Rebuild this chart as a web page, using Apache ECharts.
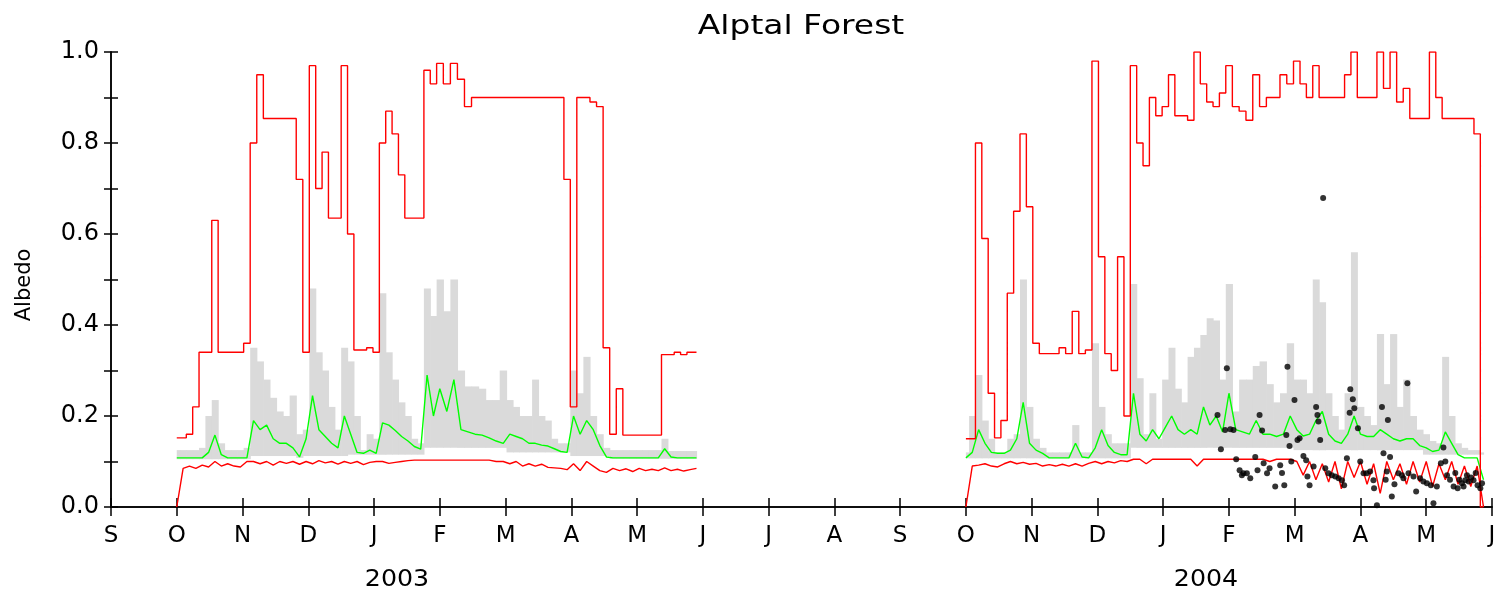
<!DOCTYPE html>
<html>
<head>
<meta charset="utf-8">
<script src="https://cdn.jsdelivr.net/npm/echarts@6/dist/echarts.min.js"></script>
<style>
  html, body { margin: 0; padding: 0; background: #fff; }
  #chart { width: 1503px; height: 595px; }
</style>
</head>
<body>
<div id="chart"></div>
<script>
// Month initials along the time axis, one per month from Sep 2002 to Jun 2004
const monthLabels = ['S','O','N','D','J','F','M','A','M','J','J','A','S','O','N','D','J','F','M','A','M','J'];
const yearLabels = ['2003', '2004'];

// Every series below holds one value every STEP_DAYS days, starting 1 October
const STEP_DAYS = 3;

// ---- Winter 2002/03 (from 1 Oct 2002) ----
const s1Upper = [
  0.152, 0.152, 0.16, 0.22, 0.34, 0.34, 0.63, 0.34, 0.34, 0.34, 0.34, 0.36,
  0.8, 0.95, 0.854, 0.854, 0.854, 0.854, 0.854, 0.72, 0.34, 0.97, 0.7, 0.78, 0.635, 0.635, 0.97,
  0.6, 0.345, 0.345, 0.35, 0.34, 0.8, 0.87, 0.82, 0.73, 0.635, 0.635, 0.635, 0.96, 0.93, 0.975, 0.93, 0.975,
  0.94, 0.88, 0.9, 0.9, 0.9, 0.9, 0.9, 0.9, 0.9, 0.9, 0.9, 0.9, 0.9, 0.9, 0.9, 0.9, 0.72,
  0.22, 0.9, 0.9, 0.89, 0.88, 0.35, 0.16, 0.26, 0.158, 0.158, 0.158, 0.158, 0.158, 0.158, 0.335, 0.335, 0.34, 0.335, 0.34, 0.34
];
const s1Green = [
  0.108, 0.108, 0.108, 0.108, 0.108, 0.12, 0.158, 0.115, 0.108, 0.108, 0.108, 0.108,
  0.19, 0.17, 0.18, 0.15, 0.14, 0.14, 0.13, 0.11, 0.15, 0.245, 0.17, 0.155, 0.14, 0.13, 0.2,
  0.16, 0.12, 0.118, 0.125, 0.118, 0.185, 0.18, 0.168, 0.155, 0.145, 0.133, 0.127, 0.29, 0.2, 0.26, 0.21, 0.28,
  0.17, 0.165, 0.16, 0.158, 0.152, 0.145, 0.14, 0.16, 0.155, 0.15, 0.14, 0.14, 0.136, 0.134, 0.128, 0.122, 0.12,
  0.2, 0.16, 0.19, 0.17, 0.135, 0.11, 0.108, 0.108, 0.108, 0.108, 0.108, 0.108, 0.108, 0.108, 0.128, 0.11, 0.108, 0.108, 0.108, 0.108
];
const s1Lower = [
  0.0, 0.085, 0.09, 0.085, 0.092, 0.088, 0.1, 0.09, 0.095, 0.09, 0.088, 0.1,
  0.1, 0.095, 0.1, 0.092, 0.1, 0.096, 0.1, 0.094, 0.1, 0.095, 0.102, 0.097, 0.1, 0.094, 0.1,
  0.096, 0.1, 0.093, 0.098, 0.1, 0.1, 0.096, 0.098, 0.1, 0.102, 0.103, 0.103, 0.103, 0.103, 0.103, 0.103, 0.103,
  0.103, 0.103, 0.103, 0.103, 0.103, 0.1, 0.1, 0.095, 0.1, 0.09, 0.095, 0.09, 0.094, 0.087, 0.086, 0.085, 0.082,
  0.095, 0.08, 0.1, 0.09, 0.08, 0.076, 0.085, 0.08, 0.084, 0.078, 0.085, 0.08, 0.083, 0.08, 0.086, 0.08, 0.083, 0.079, 0.082, 0.085
];
const s1GrayLow = [
  0.105, 0.105, 0.105, 0.105, 0.105, 0.105, 0.105, 0.105, 0.105, 0.105, 0.105, 0.105,
  0.112, 0.112, 0.112, 0.112, 0.112, 0.112, 0.112, 0.108, 0.112, 0.112, 0.112, 0.112, 0.112, 0.112, 0.112,
  0.115, 0.115, 0.115, 0.115, 0.115, 0.115, 0.115, 0.115, 0.115, 0.115, 0.115, 0.115, 0.13, 0.13, 0.13, 0.13, 0.13,
  0.13, 0.13, 0.13, 0.13, 0.13, 0.13, 0.13, 0.12, 0.12, 0.12, 0.12, 0.12, 0.12, 0.12, 0.12, 0.12, 0.12,
  0.112, 0.112, 0.112, 0.112, 0.112, 0.112, 0.106, 0.106, 0.106, 0.106, 0.106, 0.106, 0.106, 0.106, 0.106, 0.106, 0.106, 0.106, 0.106, 0.106
];
const s1GrayHigh = [
  0.125, 0.125, 0.125, 0.125, 0.13, 0.2, 0.235, 0.14, 0.125, 0.125, 0.125, 0.13,
  0.35, 0.32, 0.28, 0.24, 0.21, 0.2, 0.245, 0.16, 0.17, 0.48, 0.34, 0.3, 0.22, 0.17, 0.35,
  0.32, 0.2, 0.125, 0.16, 0.15, 0.47, 0.34, 0.28, 0.23, 0.2, 0.15, 0.14, 0.48, 0.42, 0.5, 0.43, 0.5,
  0.3, 0.265, 0.265, 0.26, 0.235, 0.235, 0.3, 0.235, 0.22, 0.2, 0.2, 0.28, 0.2, 0.19, 0.15, 0.14, 0.14,
  0.3, 0.25, 0.33, 0.2, 0.16, 0.13, 0.125, 0.125, 0.125, 0.125, 0.125, 0.125, 0.125, 0.125, 0.15, 0.123, 0.123, 0.123, 0.123, 0.123
];

// ---- Winter 2003/04 (from 1 Oct 2003) ----
const s2Upper = [
  0.15, 0.15, 0.8, 0.59, 0.25, 0.152, 0.19, 0.47, 0.65, 0.82, 0.66, 0.36,
  0.337, 0.337, 0.337, 0.35, 0.337, 0.43, 0.337, 0.345, 0.98, 0.55, 0.337, 0.3, 0.55, 0.2, 0.97,
  0.8, 0.75, 0.9, 0.86, 0.88, 0.95, 0.86, 0.86, 0.85, 1.0, 0.93, 0.89, 0.88, 0.91, 0.97, 0.88, 0.87,
  0.85, 0.95, 0.88, 0.9, 0.9, 0.95, 0.93, 0.98, 0.93, 0.9, 0.97, 0.9, 0.9, 0.9, 0.9, 0.95, 1.0,
  0.9, 0.9, 0.9, 1.0, 0.92, 1.0, 0.89, 0.92, 0.854, 0.854, 0.854, 1.0, 0.9, 0.854, 0.854, 0.854, 0.854, 0.854, 0.82, 0.0
];
const s2Green = [
  0.108, 0.12, 0.17, 0.14, 0.12, 0.118, 0.118, 0.125, 0.15, 0.23, 0.14, 0.125,
  0.118, 0.108, 0.108, 0.108, 0.108, 0.14, 0.11, 0.108, 0.13, 0.17, 0.135, 0.12, 0.115, 0.115, 0.25,
  0.16, 0.145, 0.17, 0.15, 0.175, 0.2, 0.17, 0.16, 0.17, 0.16, 0.22, 0.18, 0.2, 0.165, 0.25, 0.17, 0.165,
  0.16, 0.19, 0.16, 0.16, 0.155, 0.16, 0.2, 0.17, 0.156, 0.16, 0.19, 0.21, 0.16, 0.145, 0.14, 0.16, 0.2,
  0.16, 0.155, 0.155, 0.17, 0.16, 0.15, 0.145, 0.15, 0.15, 0.135, 0.13, 0.122, 0.125, 0.165, 0.14, 0.115, 0.108, 0.108, 0.108, 0.06
];
const s2Lower = [
  0.0, 0.09, 0.092, 0.095, 0.09, 0.088, 0.095, 0.1, 0.095, 0.098, 0.094, 0.096,
  0.09, 0.093, 0.09, 0.094, 0.09, 0.095, 0.09, 0.096, 0.1, 0.095, 0.1, 0.097, 0.102, 0.1, 0.105,
  0.105, 0.095, 0.105, 0.105, 0.105, 0.105, 0.105, 0.105, 0.105, 0.09, 0.105, 0.105, 0.105, 0.105, 0.105, 0.105, 0.105,
  0.105, 0.105, 0.105, 0.1, 0.105, 0.105, 0.105, 0.1, 0.07, 0.1, 0.06, 0.095, 0.055, 0.1, 0.04, 0.1, 0.065,
  0.1, 0.05, 0.095, 0.03, 0.1, 0.06, 0.095, 0.05, 0.1, 0.055, 0.1, 0.045, 0.095, 0.06, 0.1, 0.05, 0.09, 0.045, 0.09, 0.0
];
const s2GrayLow = [
  0.107, 0.107, 0.107, 0.107, 0.107, 0.107, 0.107, 0.107, 0.107, 0.107, 0.107, 0.107,
  0.107, 0.107, 0.107, 0.107, 0.107, 0.107, 0.107, 0.107, 0.107, 0.107, 0.107, 0.107, 0.107, 0.107, 0.13,
  0.13, 0.13, 0.13, 0.13, 0.13, 0.13, 0.13, 0.13, 0.13, 0.13, 0.13, 0.13, 0.13, 0.13, 0.13, 0.13, 0.13,
  0.13, 0.13, 0.13, 0.13, 0.13, 0.13, 0.13, 0.125, 0.125, 0.125, 0.125, 0.125, 0.125, 0.125, 0.125, 0.125, 0.125,
  0.125, 0.125, 0.125, 0.125, 0.125, 0.125, 0.125, 0.125, 0.125, 0.125, 0.115, 0.115, 0.115, 0.115, 0.115, 0.115, 0.115, 0.115, 0.115, 0.115
];
const s2GrayHigh = [
  0.12, 0.2, 0.29, 0.19, 0.15, 0.12, 0.12, 0.15, 0.16, 0.5, 0.22, 0.15,
  0.13, 0.12, 0.12, 0.12, 0.12, 0.18, 0.12, 0.12, 0.36, 0.22, 0.16, 0.14, 0.14, 0.14, 0.49,
  0.283, 0.16, 0.25, 0.15, 0.28, 0.35, 0.26, 0.23, 0.33, 0.35, 0.378, 0.415, 0.41, 0.28, 0.49, 0.21, 0.28,
  0.28, 0.31, 0.32, 0.27, 0.23, 0.25, 0.36, 0.28, 0.28, 0.25, 0.5, 0.45, 0.25, 0.2, 0.17, 0.25, 0.56,
  0.22, 0.2, 0.18, 0.38, 0.27, 0.38, 0.22, 0.28, 0.2, 0.17, 0.16, 0.145, 0.14, 0.33, 0.2, 0.14, 0.13, 0.125, 0.125, 0.12
];

// Measured albedo, winter 2003/04: day since 1 Oct 2003 and value
const dotDay = [
  117.6, 119.2, 121.2, 122.0, 123.6, 125.0, 126.2, 127.7, 128.7, 129.4, 130.9, 132.4, 134.6, 135.6, 136.5, 137.6,
  138.3, 139.8, 140.9, 143.4, 145.6, 146.4, 147.4, 148.3, 148.8, 149.7, 150.5, 151.9, 153.3, 154.3, 156.1, 157.4,
  158.0, 159.0, 160.9, 162.1, 162.7, 163.2, 164.0, 165.4, 166.4, 167.9, 169.5, 171.1, 172.7, 174.3, 175.3, 176.6,
  177.9, 178.2, 179.4, 180.1, 181.8, 182.9, 184.4, 185.9, 187.4, 188.9, 189.2, 190.5, 192.8, 193.5, 194.5, 195.0,
  195.5, 196.5, 197.3, 198.5, 200.3, 201.9, 202.6, 204.4, 204.9, 207.2, 208.4, 210.2, 211.7, 213.3, 215.2, 216.4,
  218.0, 219.9, 221.1, 222.0, 222.8, 224.2, 225.9, 226.7, 227.8, 228.6, 229.8, 230.6, 231.4, 232.2, 233.0, 234.1,
  235.3, 236.3, 237.2, 238.5, 239.3
];
const dotAlbedo = [
  0.202, 0.127, 0.169, 0.305, 0.171, 0.169, 0.105, 0.081, 0.07, 0.074, 0.074, 0.063, 0.11, 0.081, 0.202, 0.168,
  0.096, 0.074, 0.085, 0.045, 0.092, 0.075, 0.048, 0.158, 0.308, 0.134, 0.1, 0.235, 0.147, 0.151, 0.112, 0.103,
  0.067, 0.048, 0.089, 0.22, 0.202, 0.188, 0.147, 0.679, 0.085, 0.074, 0.07, 0.067, 0.063, 0.059, 0.048, 0.107,
  0.207, 0.259, 0.237, 0.217, 0.173, 0.1, 0.074, 0.074, 0.078, 0.059, 0.041, 0.004, 0.22, 0.118, 0.06, 0.078,
  0.191, 0.11, 0.023, 0.05, 0.074, 0.07, 0.063, 0.272, 0.074, 0.067, 0.034, 0.063, 0.056, 0.052, 0.048, 0.008,
  0.045, 0.096, 0.131, 0.1, 0.07, 0.06, 0.045, 0.075, 0.041, 0.06, 0.052, 0.045, 0.059, 0.07, 0.056, 0.065,
  0.059, 0.075, 0.048, 0.041, 0.052
];

// Position on the month axis: 0 = 1 Sep 2002, each month one unit wide
function monthPos(startYear, day) {
  const whole = Math.floor(day);
  const frac = day - whole;
  const dt = new Date(Date.UTC(startYear, 9, 1 + whole));
  const y = dt.getUTCFullYear(), m = dt.getUTCMonth(), d = dt.getUTCDate();
  const dim = new Date(Date.UTC(y, m + 1, 0)).getUTCDate();
  return (y - 2002) * 12 + (m - 8) + (d - 1 + frac) / dim;
}
function pts(startYear, values) {
  return values.map((v, i) => [monthPos(startYear, i * STEP_DAYS), v]);
}
// One cell per sample for the min-max band: [left edge, right edge, low, high]
function bandCells(startYear, low, high) {
  const xs = low.map((_, i) => monthPos(startYear, i * STEP_DAYS));
  return xs.map((x, i) => [
    i > 0 ? (x + xs[i - 1]) / 2 : x,
    i < xs.length - 1 ? (x + xs[i + 1]) / 2 : x,
    low[i], high[i]
  ]);
}

const RED = '#ff0000', GREEN = '#00ff00', GRAY = '#dadada';
const FONT = 'DejaVu Sans';

function bandSeries(startYear, low, high) {
  return {
    type: 'custom', data: bandCells(startYear, low, high), silent: true, z: 1, clip: true,
    encode: { x: [0, 1], y: [2, 3] },
    renderItem: (params, api) => {
      const a = api.coord([api.value(0), api.value(3)]);
      const b = api.coord([api.value(1), api.value(2)]);
      return { type: 'rect', shape: { x: a[0], y: a[1], width: b[0] - a[0] + 0.6, height: b[1] - a[1] },
               style: { fill: GRAY } };
    }
  };
}
function lineSeries(startYear, values, color, stepped) {
  return { type: 'line', data: pts(startYear, values), step: stepped ? 'middle' : false,
    symbol: 'none', lineStyle: { color: color, width: 1.4 }, silent: true, z: 3 };
}

const axisLine = { show: true, lineStyle: { color: '#000', width: 1.5 } };
const labelStyle = { color: '#000', fontFamily: FONT, fontSize: 24 };

const chart = echarts.init(document.getElementById('chart'), null, { renderer: 'canvas' });
chart.setOption({
  animation: false,
  backgroundColor: '#fff',
  grid: { left: 111, right: 11, top: 52, bottom: 88, containLabel: false },
  xAxis: [
    { type: 'value', min: 0, max: 21, interval: 1, position: 'bottom',
      axisLine: axisLine, splitLine: { show: false },
      axisTick: { show: true, inside: true, length: 9, lineStyle: { color: '#000', width: 1.5 } },
      axisLabel: { ...labelStyle, fontSize: 23, margin: 18, formatter: v => monthLabels[Math.round(v)] || '' } },
    { type: 'value', min: 0, max: 21, interval: 1, position: 'top',
      axisLine: axisLine, splitLine: { show: false },
      axisTick: { show: true, inside: true, length: 9, lineStyle: { color: '#000', width: 1.5 } },
      axisLabel: { show: false } }
  ],
  yAxis: [
    { type: 'value', min: 0, max: 1, interval: 0.1, position: 'left',
      axisLine: axisLine, splitLine: { show: false },
      axisTick: { show: true, inside: true, length: 7, lineStyle: { color: '#000', width: 1.5 } },
      axisLabel: { ...labelStyle, margin: 12,
        formatter: v => (Math.round(v * 10) % 2 === 0 ? v.toFixed(1) : '') } },
    { type: 'value', min: 0, max: 1, interval: 0.1, position: 'right',
      axisLine: axisLine, splitLine: { show: false },
      axisTick: { show: true, inside: true, length: 7, lineStyle: { color: '#000', width: 1.5 } },
      axisLabel: { show: false } }
  ],
  series: [
    bandSeries(2002, s1GrayLow, s1GrayHigh),
    bandSeries(2003, s2GrayLow, s2GrayHigh),
    lineSeries(2002, s1Green, GREEN, false),
    lineSeries(2003, s2Green, GREEN, false),
    lineSeries(2002, s1Lower, RED, false),
    lineSeries(2003, s2Lower, RED, false),
    lineSeries(2002, s1Upper, RED, true),
    lineSeries(2003, s2Upper, RED, true),
    { type: 'scatter', data: dotDay.map((d, i) => [monthPos(2003, d), dotAlbedo[i]]),
      symbol: 'circle', symbolSize: 6, itemStyle: { color: '#000' }, silent: true, z: 5 }
  ],
  graphic: [
    { type: 'text', x: 801, y: 27, scaleX: 1.22,
      style: { text: 'Alptal Forest', fill: '#000', font: '27px "DejaVu Sans"', align: 'center', verticalAlign: 'middle' } },
    { type: 'text', x: 25, y: 285, rotation: Math.PI / 2,
      style: { text: 'Albedo', fill: '#000', font: '21px "DejaVu Sans"', align: 'center', verticalAlign: 'middle' } },
    { type: 'text', x: 397, y: 580, scaleX: 1.1,
      style: { text: yearLabels[0], fill: '#000', font: '23px "DejaVu Sans"', align: 'center', verticalAlign: 'middle' } },
    { type: 'text', x: 1206, y: 580, scaleX: 1.1,
      style: { text: yearLabels[1], fill: '#000', font: '23px "DejaVu Sans"', align: 'center', verticalAlign: 'middle' } }
  ]
});
</script>
</body>
</html>
